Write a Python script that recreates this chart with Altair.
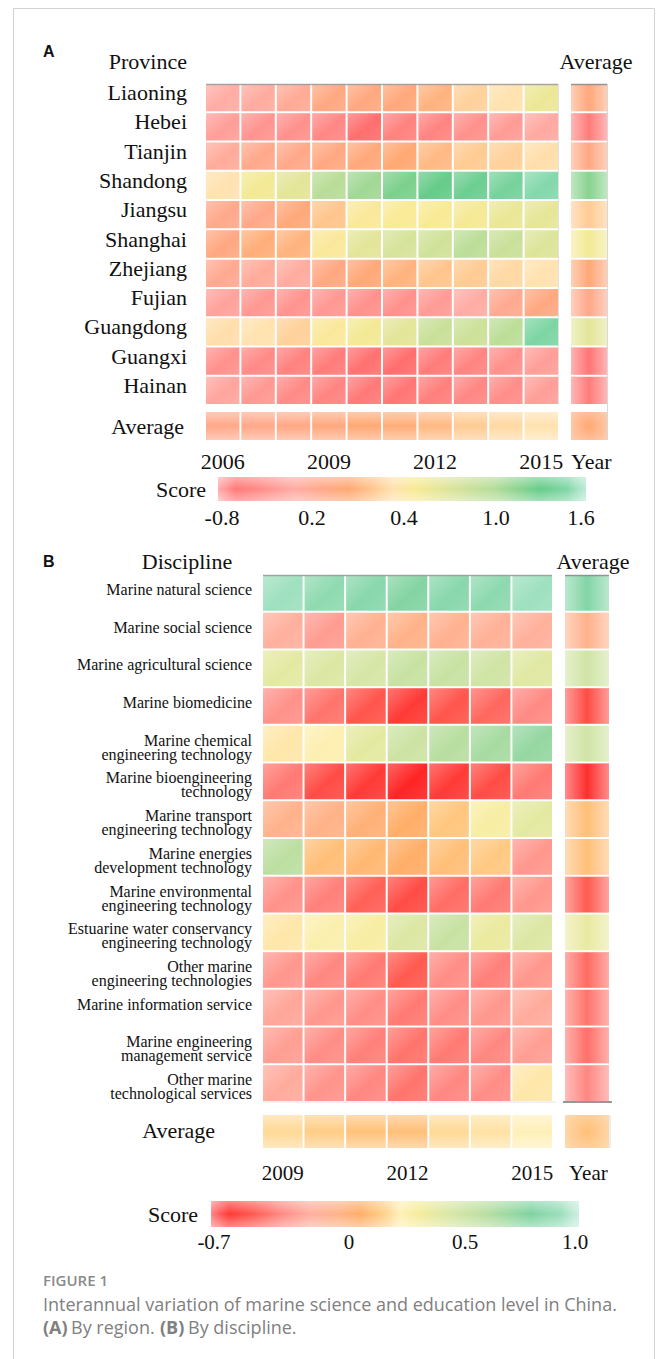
import altair as alt
import numpy as np
import pandas as pd

SERIF = "Liberation Serif"
SANS = "Open Sans"
INK = "#111111"

# ---------------- Panel A: coastal provinces, 2006-2015 ----------------
years_a = [2006, 2007, 2008, 2009, 2010, 2011, 2012, 2013, 2014, 2015]
provinces = ["Liaoning", "Hebei", "Tianjin", "Shandong", "Jiangsu", "Shanghai",
             "Zhejiang", "Fujian", "Guangdong", "Guangxi", "Hainan"]
liaoning = [0.00, 0.04, 0.12, 0.24, 0.25, 0.26, 0.30, 0.35, 0.38, 0.57]
hebei = [-0.16, -0.28, -0.32, -0.44, -0.80, -0.52, -0.48, -0.32, -0.20, -0.04]
tianjin = [0.08, 0.20, 0.22, 0.24, 0.26, 0.28, 0.31, 0.34, 0.35, 0.37]
shandong = [0.38, 0.52, 0.64, 0.95, 1.07, 1.22, 1.31, 1.36, 1.43, 1.53]
jiangsu = [0.20, 0.22, 0.26, 0.33, 0.45, 0.47, 0.48, 0.50, 0.59, 0.62]
shanghai = [0.24, 0.29, 0.30, 0.45, 0.64, 0.74, 0.78, 0.93, 0.83, 0.69]
zhejiang = [0.16, 0.08, 0.04, 0.24, 0.27, 0.30, 0.33, 0.34, 0.36, 0.38]
fujian = [-0.12, -0.24, -0.28, -0.24, -0.32, -0.32, -0.20, 0.00, 0.16, 0.24]
guangdong = [0.37, 0.38, 0.35, 0.45, 0.52, 0.64, 0.83, 0.81, 0.93, 1.48]
guangxi = [-0.32, -0.40, -0.52, -0.60, -0.76, -0.80, -0.60, -0.48, -0.32, -0.16]
hainan = [-0.08, -0.24, -0.40, -0.48, -0.64, -0.68, -0.56, -0.44, -0.36, -0.16]
rows_a = [liaoning, hebei, tianjin, shandong, jiangsu, shanghai,
          zhejiang, fujian, guangdong, guangxi, hainan]
avg_by_province = [0.26, -0.60, 0.24, 1.17, 0.34, 0.52, 0.27, 0.22, 0.64, -0.70, -0.60]
avg_by_year_a = [0.22, 0.22, 0.23, 0.25, 0.28, 0.29, 0.31, 0.34, 0.36, 0.38]
avg_all_a = 0.28
year_ticks_a = [2006, 2009, 2012, 2015]
ticks_a = [-0.8, 0.2, 0.4, 1.0, 1.6]
tick_text_a = ["-0.8", "0.2", "0.4", "1.0", "1.6"]

# ---------------- Panel B: disciplines, 2009-2015 ----------------
years_b = [2009, 2010, 2011, 2012, 2013, 2014, 2015]
disciplines = [
    "Marine natural science",
    "Marine social science",
    "Marine agricultural science",
    "Marine biomedicine",
    "Marine chemical\nengineering technology",
    "Marine bioengineering\ntechnology",
    "Marine transport\nengineering technology",
    "Marine energies\ndevelopment technology",
    "Marine environmental\nengineering technology",
    "Estuarine water conservancy\nengineering technology",
    "Other marine\nengineering technologies",
    "Marine information service",
    "Marine engineering\nmanagement service",
    "Other marine\ntechnological services",
]
natural_sci = [0.95, 0.88, 0.85, 0.78, 0.85, 0.87, 0.95]
social_sci = [-0.18, -0.28, -0.12, -0.07, -0.11, -0.15, -0.17]
agricultural_sci = [0.38, 0.42, 0.45, 0.52, 0.52, 0.48, 0.40]
biomedicine = [-0.32, -0.42, -0.52, -0.62, -0.52, -0.46, -0.35]
chemical_eng = [0.20, 0.24, 0.38, 0.50, 0.60, 0.66, 0.72]
bioengineering = [-0.40, -0.55, -0.62, -0.70, -0.62, -0.55, -0.40]
transport_eng = [-0.08, -0.05, 0.00, 0.05, 0.12, 0.28, 0.38]
energies_dev = [0.58, 0.10, 0.08, 0.05, 0.10, 0.13, -0.30]
environmental_eng = [-0.32, -0.38, -0.48, -0.55, -0.44, -0.40, -0.30]
estuarine_eng = [0.20, 0.25, 0.28, 0.42, 0.52, 0.35, 0.42]
other_eng = [-0.30, -0.36, -0.40, -0.50, -0.34, -0.38, -0.30]
information_srv = [-0.24, -0.30, -0.34, -0.40, -0.34, -0.30, -0.22]
management_srv = [-0.27, -0.34, -0.38, -0.42, -0.40, -0.36, -0.27]
other_srv = [-0.22, -0.31, -0.36, -0.42, -0.36, -0.34, 0.20]
rows_b = [natural_sci, social_sci, agricultural_sci, biomedicine, chemical_eng,
          bioengineering, transport_eng, energies_dev, environmental_eng,
          estuarine_eng, other_eng, information_srv, management_srv, other_srv]
avg_by_discipline = [0.82, -0.08, 0.48, -0.55, 0.48, -0.66, 0.10, 0.10,
                     -0.50, 0.36, -0.45, -0.42, -0.43, -0.36]
avg_by_year_b = [0.17, 0.14, 0.11, 0.10, 0.17, 0.19, 0.22]
avg_all_b = 0.10
year_ticks_b = [2009, 2012, 2015]
ticks_b = [-0.7, 0.0, 0.5, 1.0]
tick_text_b = ["-0.7", "0", "0.5", "1.0"]

# ---------------- colour ramps ----------------
# panel A ramp: stops placed along the evenly labelled colour bar
ramp_pos_a = [0, 0.10, 0.20, 0.28, 0.35, 0.42, 0.47, 0.53, 0.62, 0.75, 0.88, 1.0]
ramp_col_a = ["#ff6e6e", "#ff8a86", "#ffaca4", "#ffa888", "#ffa874", "#ffc890",
              "#ffe2b0", "#f9ea94", "#dde49a", "#b2dc98", "#66cb89", "#8edcb6"]
dom_a = [float(v) for v in np.interp(ramp_pos_a, np.linspace(0, 1, len(ticks_a)), ticks_a)]

dom_b = [-0.7, -0.5, -0.35, -0.2, -0.05, 0.05, 0.15, 0.22, 0.3, 0.45, 0.6, 0.8, 1.0]
ramp_col_b = ["#ff2424", "#ff5a50", "#ff8a84", "#ffb0a0", "#ffb286", "#ffae68",
              "#ffd088", "#fff0b8", "#f5ec9c", "#d6e6a6", "#b8dea0", "#7ed3a2", "#a8e4c8"]

# ---------------- page geometry (pixels) ----------------
W, H = 656, 1359
A_X, A_Y = [206, 558], [84, 404]          # yearly grid
A_CX, A_RY = [571, 607], [412, 440]       # average column / average row
A_BAR_X, A_BAR_Y = (218, 586), (477, 501)
A_TICK_PX = [222, 312, 404, 496, 581]

B_X, B_Y = [263, 552], [575, 1101]
B_CX, B_RY = [565, 609], [1115, 1148]
B_BAR_X, B_BAR_Y = (211, 579), (1201, 1227)
B_TICK_PX = [214, 349, 465, 575]


def white(a):
    return f"rgba(255,255,255,{a})"


def lin(stops, x1, y1, x2, y2):
    return alt.LinearGradient(
        gradient="linear",
        stops=[alt.GradientStop(color=c, offset=float(o)) for o, c in stops],
        x1=x1, y1=y1, x2=x2, y2=y2)


def bar_gradient(dom, cols, ticks, tick_px, bar):
    xs = np.interp(dom, ticks, tick_px)
    offs = [min(max((x - bar[0]) / (bar[1] - bar[0]), 0.0), 1.0) for x in xs]
    stops = [(0.0, cols[0])] + list(zip(offs, cols)) + [(1.0, cols[-1])]
    return lin(stops, 0, 0, 1, 0)


HAZE_DIAG = lin([(0, white(0.30)), (0.55, white(0)), (1, white(0.10))], 0, 0, 1, 1)
HAZE_H = lin([(0, white(0.45)), (0.5, white(0)), (1, white(0.45))], 0, 0, 1, 0)
HAZE_V = lin([(0, white(0.40)), (0.5, white(0)), (1, white(0.40))], 0, 0, 0, 1)
HAZE_ENDS = lin([(0, white(0.45)), (0.05, white(0)), (0.95, white(0)), (1, white(0.4))], 0, 0, 1, 0)
HAZE_R = alt.RadialGradient(
    gradient="radial",
    stops=[alt.GradientStop(color=white(0), offset=0), alt.GradientStop(color=white(0.5), offset=1)],
    x1=0.5, y1=0.5, r1=0, x2=0.5, y2=0.5, r2=0.72)

ONE = pd.DataFrame({"k": [0]})


def bx(field, dom, rng, pad):
    return alt.X(f"{field}:O", axis=None,
                 scale=alt.Scale(type="band", domain=dom, range=rng, paddingInner=pad, paddingOuter=0))


def by(field, dom, rng, pad):
    return alt.Y(f"{field}:O", axis=None,
                 scale=alt.Scale(type="band", domain=dom, range=rng, paddingInner=pad, paddingOuter=0))


def cscale(dom, rng):
    return alt.Scale(type="linear", domain=dom, range=rng, interpolate="rgb", zero=False, nice=False)


def text(s, x, y, size, font=SERIF, align="left", weight="normal", color=INK):
    return alt.Chart(ONE).mark_text(
        text=s, font=font, fontSize=size, align=align, baseline="middle",
        fontWeight=weight, color=color).encode(x=alt.value(x), y=alt.value(y))


def hline(y, x0, x1, color, width=1.0, opacity=1.0):
    return alt.Chart(ONE).mark_rule(color=color, strokeWidth=width, opacity=opacity).encode(
        x=alt.value(x0), x2=alt.value(x1), y=alt.value(y))


def vline(x, y0, y1, color, width=1.0, opacity=1.0):
    return alt.Chart(ONE).mark_rule(color=color, strokeWidth=width, opacity=opacity).encode(
        x=alt.value(x), y=alt.value(y0), y2=alt.value(y1))


def cells(df, x, y, color, haze):
    return [alt.Chart(df).mark_rect().encode(x=x, y=y, color=color),
            alt.Chart(df).mark_rect(fill=haze).encode(x=x, y=y)]


def color_bar(grad, bar_x, bar_y, ticks, labels, tick_px, label_y, size):
    def strip(fill):
        return alt.Chart(ONE).mark_rect(fill=fill).encode(
            x=alt.value(bar_x[0]), x2=alt.value(bar_x[1]), y=alt.value(bar_y[0]), y2=alt.value(bar_y[1]))
    tdf = pd.DataFrame({"v": ticks, "t": labels})
    tick_labels = alt.Chart(tdf).mark_text(font=SERIF, fontSize=size, color=INK, baseline="middle").encode(
        x=alt.X("v:Q", axis=None, scale=alt.Scale(domain=ticks, range=tick_px, zero=False, nice=False)),
        y=alt.value(label_y), text="t:N")
    return [strip(grad), strip(HAZE_V), strip(HAZE_ENDS), tick_labels]


layers = []

# card outline
BORDER = "#d2d2d2"
layers += [vline(13.5, 8.5, H, BORDER), hline(8.5, 13.5, 654.5, BORDER), vline(654.5, 8.5, H, BORDER)]

# ================= Panel A =================
color_a = alt.Color("score:Q", legend=None, scale=cscale(dom_a, ramp_col_a))
df_a = pd.DataFrame([(p, yr, v) for p, row in zip(provinces, rows_a) for yr, v in zip(years_a, row)],
                    columns=["province", "year", "score"])
xa = bx("year", years_a, A_X, 0.057)
ya = by("province", provinces, A_Y, 0.069)
xa_c = bx("col", ["Average"], A_CX, 0)
ya_r = by("row", ["Average"], A_RY, 0)

layers += cells(df_a, xa, ya, color_a, HAZE_DIAG)
layers += cells(pd.DataFrame({"province": provinces, "score": avg_by_province, "col": "Average"}),
                xa_c, ya, color_a, HAZE_H)
layers += cells(pd.DataFrame({"year": years_a, "score": avg_by_year_a, "row": "Average"}),
                xa, ya_r, color_a, HAZE_V)
layers += cells(pd.DataFrame({"score": [avg_all_a], "col": ["Average"], "row": ["Average"]}),
                xa_c, ya_r, color_a, HAZE_R)

layers += [
    hline(A_Y[0] + 0.5, A_X[0], A_X[1], "#9a9a9a", 1.5, 0.85),
    hline(A_Y[0] + 0.5, A_CX[0], A_CX[1], "#8a8a8a", 1.5, 0.85),
    vline(A_X[1] + 0.5, A_Y[0], A_Y[1], "#e2e2e2"),
    vline(A_CX[1] + 0.5, A_Y[0], A_RY[1], "#d8d8d8"),
]

# province names and axis texts
layers.append(alt.Chart(pd.DataFrame({"province": provinces})).mark_text(
    font=SERIF, fontSize=22, color=INK, align="right", baseline="middle", dy=-4.5).encode(
    y=ya, x=alt.value(187), text="province:N"))
layers.append(alt.Chart(pd.DataFrame({"year": year_ticks_a})).mark_text(
    font=SERIF, fontSize=22, color=INK, align="center", baseline="middle").encode(
    x=xa, y=alt.value(461.5), text="year:O"))
layers += [
    text("A", 43, 52, 16, font="Liberation Sans", weight="bold"),
    text("Province", 187, 62, 22, align="right"),
    text("Average", 596, 62, 22, align="center"),
    text("Average", 184, 427, 22, align="right"),
    text("Year", 571, 461.5, 22),
    text("Score", 206, 490, 22, align="right"),
]
layers += color_bar(bar_gradient(dom_a, ramp_col_a, ticks_a, A_TICK_PX, A_BAR_X),
                    A_BAR_X, A_BAR_Y, ticks_a, tick_text_a, A_TICK_PX, 517.5, 22)

# ================= Panel B =================
color_b = alt.Color("score:Q", legend=None, scale=cscale(dom_b, ramp_col_b))
df_b = pd.DataFrame([(d, yr, v) for d, row in zip(disciplines, rows_b) for yr, v in zip(years_b, row)],
                    columns=["discipline", "year", "score"])
xb = bx("year", years_b, B_X, 0.048)
yb = by("discipline", disciplines, B_Y, 0.053)
xb_c = bx("col", ["Average"], B_CX, 0)
yb_r = by("row", ["Average"], B_RY, 0)

layers += cells(df_b, xb, yb, color_b, HAZE_DIAG)
layers += cells(pd.DataFrame({"discipline": disciplines, "score": avg_by_discipline, "col": "Average"}),
                xb_c, yb, color_b, HAZE_H)
layers += cells(pd.DataFrame({"year": years_b, "score": avg_by_year_b, "row": "Average"}),
                xb, yb_r, color_b, HAZE_V)
layers += cells(pd.DataFrame({"score": [avg_all_b], "col": ["Average"], "row": ["Average"]}),
                xb_c, yb_r, color_b, HAZE_R)

layers += [
    hline(B_Y[0] + 0.5, B_X[0], B_X[1], "#9a9a9a", 1.5, 0.85),
    hline(B_Y[0] + 0.5, B_CX[0], B_CX[1], "#8a8a8a", 1.5, 0.85),
    hline(B_Y[1] + 1, B_X[0], B_X[1] + 4, "#e4e4e4"),
    hline(B_Y[1] + 1, B_CX[0] - 2, B_CX[1] + 3, "#8c8c8c", 2, 0.9),
    vline(B_CX[1] + 1, B_RY[0], B_RY[1], "#dcdcdc"),
]

layers.append(alt.Chart(pd.DataFrame({"discipline": disciplines})).mark_text(
    font=SERIF, fontSize=16, color=INK, align="right", baseline="middle",
    lineBreak="\n", lineHeight=14, dy=-3).encode(
    y=yb, x=alt.value(252), text="discipline:N"))
layers.append(alt.Chart(pd.DataFrame({"year": year_ticks_b})).mark_text(
    font=SERIF, fontSize=21, color=INK, align="center", baseline="middle").encode(
    x=xb, y=alt.value(1173.5), text="year:O"))
layers += [
    text("B", 43, 562, 16, font="Liberation Sans", weight="bold"),
    text("Discipline", 187, 562, 22, align="center"),
    text("Average", 593, 562, 22, align="center"),
    text("Average", 215, 1131, 22, align="right"),
    text("Year", 569, 1173.5, 21),
    text("Score", 198, 1215, 22, align="right"),
]
layers += color_bar(bar_gradient(dom_b, ramp_col_b, ticks_b, B_TICK_PX, B_BAR_X),
                    B_BAR_X, B_BAR_Y, ticks_b, tick_text_b, B_TICK_PX, 1242.5, 21)

# ================= caption =================
CAP = "#808080"
layers += [
    text("FIGURE 1", 43, 1281, 15, font=SANS, weight=600, color="#8a8a8a"),
    text("Interannual variation of marine science and education level in China.",
         43, 1306, 18, font=SANS, color=CAP),
    text("(A)", 43, 1329, 18, font=SANS, weight="bold", color=CAP),
    text("By region.", 71, 1329, 18, font=SANS, color=CAP),
    text("(B)", 160, 1329, 18, font=SANS, weight="bold", color=CAP),
    text("By discipline.", 188, 1329, 18, font=SANS, color=CAP),
]

chart = alt.layer(*layers).properties(
    width=W, height=H, padding=0, background="white",
    autosize=alt.AutoSizeParams(type="none"),
).resolve_scale(x="independent", y="independent", color="independent").configure_view(stroke=None)

chart.save("out.html", embed_options={"renderer": "svg", "actions": False})
